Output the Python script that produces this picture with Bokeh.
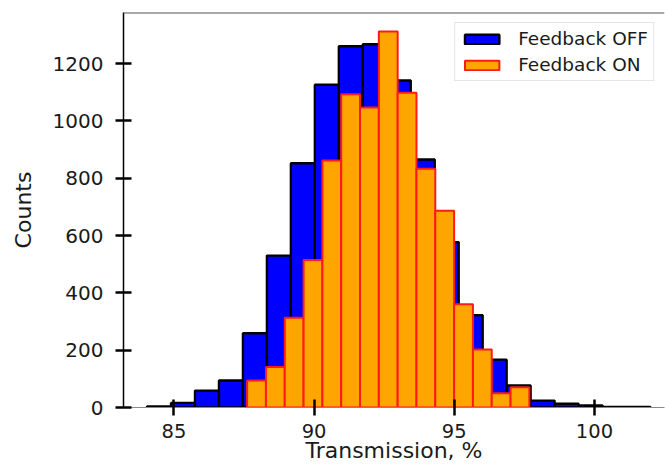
import numpy as np
from bokeh.plotting import figure
from bokeh.models import Range1d, FixedTicker, Span
from bokeh.embed import file_html
from bokeh.resources import INLINE

# Feedback OFF histogram (21 bins)
off_range = (84.04, 102.0)
off_counts = [4, 16, 59, 94, 259, 530, 852, 1126, 1260, 1267, 1141,
              865, 577, 322, 167, 77, 24, 13, 7, 2, 2]

# Feedback ON histogram (15 bins)
on_range = (87.61, 97.68)
on_counts = [94, 141, 313, 515, 862, 1093, 1047, 1312, 1098, 833,
             686, 360, 202, 50, 71]

x_ticks = [85, 90, 95, 100]
y_ticks = [0, 200, 400, 600, 800, 1000, 1200]

off_edges = np.linspace(off_range[0], off_range[1], len(off_counts) + 1)
on_edges = np.linspace(on_range[0], on_range[1], len(on_counts) + 1)

FONT = "DejaVu Sans"

p = figure(width=665, height=465, output_backend="svg", toolbar_location=None,
           x_range=Range1d(83.2, 102.5), y_range=Range1d(0, 1378),
           min_border_left=123, min_border_right=1, min_border_top=12,
           min_border_bottom=58)

p.quad(left=off_edges[:-1], right=off_edges[1:], bottom=0, top=off_counts,
       fill_color="#0000ff", line_color="black", line_width=2.4,
       legend_label="Feedback OFF")
p.quad(left=on_edges[:-1], right=on_edges[1:], bottom=0, top=on_counts,
       fill_color="#ffa500", line_color="#ff1a1a", line_width=2.0,
       legend_label="Feedback ON")

p.grid.visible = False
p.outline_line_color = None
p.background_fill_color = "white"
p.border_fill_color = "white"

p.add_layout(Span(location=1378, dimension="width", line_color="#555555", line_width=2))

for ax in (p.xaxis[0], p.yaxis[0]):
    ax.major_tick_in = 8
    ax.major_tick_out = 8
    ax.major_tick_line_width = 2.5
    ax.major_tick_line_color = "black"
    ax.minor_tick_line_color = None
    ax.major_label_text_font = FONT
    ax.major_label_text_font_size = "20px"
    ax.major_label_text_color = "#1a1a1a"
    ax.axis_label_text_font = FONT
    ax.axis_label_text_font_style = "normal"
    ax.axis_label_text_color = "#1a1a1a"

p.xaxis.major_label_text_font_size = "19.5px"
p.xaxis.axis_label_text_font_size = "22px"
p.yaxis.axis_label_text_font_size = "22px"
p.xaxis.ticker = FixedTicker(ticks=x_ticks)
p.yaxis.ticker = FixedTicker(ticks=y_ticks)
p.xaxis.axis_label = "Transmission, %"
p.yaxis.axis_label = "Counts"
p.xaxis.axis_line_color = "#888888"
p.xaxis.axis_line_width = 1
p.yaxis.axis_line_color = "black"
p.yaxis.axis_line_width = 1.5
p.xaxis.major_label_standoff = 8
p.yaxis.major_label_standoff = 12
p.xaxis.axis_label_standoff = -3
p.yaxis.axis_label_standoff = 14

lg = p.legend[0]
lg.location = "top_right"
lg.margin = 10
lg.padding = 5
lg.spacing = 5
lg.glyph_width = 43
lg.glyph_height = 12
lg.label_height = 20
lg.label_standoff = 15
lg.label_text_font = FONT
lg.label_text_font_size = "18.5px"
lg.label_text_color = "#1a1a1a"
lg.border_line_color = "#cccccc"
lg.border_line_width = 1
lg.background_fill_alpha = 0.8

open("out.html", "w").write(file_html(p, INLINE))
